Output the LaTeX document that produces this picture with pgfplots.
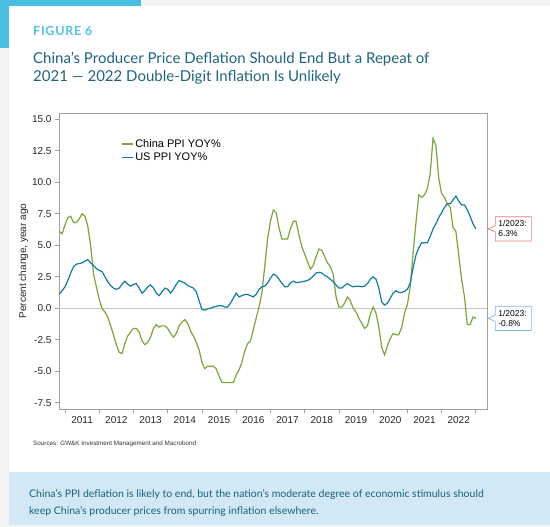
\documentclass[border=0pt]{standalone}
\usepackage{pgfplots}
\pgfplotsset{compat=1.18}
\usepackage{pgfplotstable}
\usepackage{fontspec}
\setmainfont{Liberation Sans}
\newfontfamily\titlefont{Lato}
\usetikzlibrary{shapes.callouts}
\definecolor{bggray}{RGB}{243,243,243}
\definecolor{accent}{RGB}{72,190,225}
\definecolor{figcyan}{RGB}{80,195,230}
\definecolor{titleteal}{RGB}{30,100,130}
\definecolor{capfill}{RGB}{210,233,245}
\definecolor{captext}{RGB}{25,95,125}
\definecolor{chinagreen}{RGB}{125,165,55}
\definecolor{usblue}{RGB}{16,125,160}
\definecolor{framegray}{RGB}{160,160,160}
\definecolor{redbox}{RGB}{240,120,130}
\definecolor{bluebox}{RGB}{130,180,235}

\pgfplotstableread{
t china us
-2 6.1 1.1
-1 5.9 1.4
0 6.6 1.7
1 7.2 2.2
2 7.3 2.8
3 6.8 3.3
4 6.8 3.5
5 7.1 3.55
6 7.5 3.6
7 7.3 3.75
8 6.5 3.85
9 5.0 3.6
10 2.7 3.4
11 1.7 3.15
12 0.7 3.0
13 0.0 2.9
14 -0.3 2.5
15 -0.7 2.1
16 -1.4 1.8
17 -2.1 1.6
18 -2.9 1.5
19 -3.5 1.6
20 -3.6 1.9
21 -2.8 2.15
22 -2.2 1.9
23 -1.9 1.75
24 -1.6 1.9
25 -1.6 1.95
26 -1.9 1.6
27 -2.6 1.2
28 -2.9 1.4
29 -2.7 1.7
30 -2.3 1.85
31 -1.6 1.6
32 -1.3 1.2
33 -1.5 1.0
34 -1.4 1.3
35 -1.4 1.6
36 -1.6 1.5
37 -2.0 1.2
38 -2.3 1.5
39 -2.0 1.9
40 -1.4 2.2
41 -1.1 2.1
42 -0.9 2.0
43 -1.2 1.8
44 -1.8 1.7
45 -2.2 1.6
46 -2.7 1.3
47 -3.3 0.6
48 -4.3 -0.1
49 -4.8 -0.15
50 -4.6 -0.05
51 -4.6 0.0
52 -4.6 0.1
53 -4.8 0.15
54 -5.4 0.2
55 -5.9 0.2
56 -5.9 0.1
57 -5.9 0.1
58 -5.9 0.4
59 -5.9 0.8
60 -5.3 1.2
61 -4.9 0.9
62 -4.3 1.0
63 -3.4 1.1
64 -2.8 1.1
65 -2.6 1.0
66 -1.7 0.9
67 -0.8 1.1
68 0.1 1.5
69 1.2 1.7
70 3.3 1.75
71 5.5 2.0
72 6.9 2.4
73 7.8 2.7
74 7.6 2.6
75 6.4 2.3
76 5.5 2.0
77 5.5 1.7
78 5.5 1.7
79 6.3 2.0
80 6.9 2.15
81 6.9 2.05
82 5.8 2.05
83 4.9 2.1
84 4.3 2.15
85 3.7 2.2
86 3.1 2.35
87 3.4 2.55
88 4.1 2.8
89 4.7 2.85
90 4.6 2.8
91 4.1 2.6
92 3.6 2.5
93 3.3 2.3
94 2.7 2.1
95 0.9 1.85
96 0.1 1.6
97 0.1 1.6
98 0.4 1.8
99 0.9 1.95
100 0.6 1.8
101 0.0 1.7
102 -0.3 1.75
103 -0.8 1.75
104 -1.2 1.7
105 -1.6 1.75
106 -1.4 1.95
107 -0.5 2.3
108 0.1 2.5
109 -0.4 2.3
110 -1.5 1.6
111 -3.1 0.5
112 -3.7 0.25
113 -3.0 0.4
114 -2.4 0.8
115 -2.0 1.2
116 -2.1 1.4
117 -2.1 1.25
118 -1.5 1.25
119 -0.4 1.35
120 0.3 1.5
121 1.7 2.0
122 4.4 3.2
123 6.8 4.2
124 9.0 4.8
125 8.8 5.2
126 9.0 5.2
127 9.5 5.2
128 10.7 5.7
129 13.5 6.3
130 12.9 6.7
131 10.3 7.2
132 9.1 7.6
133 8.8 8.0
134 8.3 8.3
135 8.0 8.3
136 6.4 8.6
137 6.1 8.9
138 4.2 8.5
139 2.3 8.2
140 0.9 8.2
141 -1.3 7.8
142 -1.3 7.3
143 -0.7 6.7
144 -0.8 6.3
}\datatable

\begin{document}
\begin{tikzpicture}
\useasboundingbox (0,0) rectangle (550pt,-527pt);
\fill[bggray] (0,0) rectangle (550pt,-527pt);
\fill[white] (9pt,-6pt) rectangle (550pt,-525pt);
\fill[accent] (0,0) rectangle (141pt,-6pt);
\fill[accent] (0,0) rectangle (9pt,-48pt);
\fill[capfill] (9pt,-472pt) rectangle (550pt,-525pt);

\node[anchor=base west, inner sep=0pt, font=\titlefont\fontsize{12.5}{14}\selectfont\bfseries\addfontfeatures{LetterSpace=6}, text=figcyan] at (33pt,-35.7pt) {FIGURE 6};
\node[anchor=base west, inner sep=0pt, font=\titlefont\fontsize{15}{17}\selectfont, text=titleteal] at (33pt,-64pt) {China’s Producer Price Deflation Should End But a Repeat of};
\node[anchor=base west, inner sep=0pt, font=\titlefont\fontsize{15}{17}\selectfont, text=titleteal] at (33pt,-81.5pt) {2021 — 2022 Double-Digit Inflation Is Unlikely};

\begin{axis}[
  at={(59pt,-113pt)}, anchor=north west,
  scale only axis, width=428pt, height=296pt,
  xmin=-2.1, xmax=147.9, ymin=-8, ymax=15.5,
  axis line style={framegray, line width=0.8pt},
  tick align=outside,
  xtick pos=bottom, ytick pos=left,
  xtick={6,18,...,138},
  xticklabels={2011,2012,2013,2014,2015,2016,2017,2018,2019,2020,2021,2022},
  major x tick style={draw=none},
  minor xtick={0,12,...,144},
  minor x tick style={framegray, line width=0.8pt},
  minor tick length=4pt,
  ytick={-7.5,-5,...,15},
  y tick style={framegray, line width=0.8pt},
  major tick length=4pt,
  yticklabel style={/pgf/number format/.cd, fixed, fixed zerofill, precision=1},
  /pgf/number format/assume math mode=true,
  tick label style={font=\fontsize{10}{12}\selectfont, text=black!85},
  ylabel={Percent change, year ago},
  ylabel shift=-3pt,
  ylabel style={font=\fontsize{10}{12}\selectfont, text=black!85},
  clip=false,
  legend style={draw=none, fill=none, at={(rel axis cs:0.142,0.922)}, anchor=north west,
    font=\fontsize{11}{13}\selectfont, row sep=0pt, inner sep=1pt},
  legend cell align=left,
  legend image post style={xscale=0.65},
]
\draw[black!22, line width=0.7pt] (axis cs:-2.1,0) -- (axis cs:147.9,0);
\addplot[chinagreen, line width=1.2pt] table[x=t, y=china] {\datatable};
\addlegendentry{China PPI YOY\%}
\addplot[usblue, line width=1.2pt] table[x=t, y=us] {\datatable};
\addlegendentry{US PPI YOY\%}
\node[rectangle callout, draw=redbox, fill=white, line width=0.7pt, anchor=west, align=left,
  font=\fontsize{8.5}{10}\selectfont, inner xsep=3pt, inner ysep=4pt, text width=30pt,
  callout absolute pointer={([xshift=1pt]axis cs:147.9,6.3)}, callout pointer width=6pt]
  at ([xshift=8pt]axis cs:147.9,6.3) {1/2023:\\6.3\%};
\node[rectangle callout, draw=bluebox, fill=white, line width=0.7pt, anchor=west, align=left,
  font=\fontsize{8.5}{10}\selectfont, inner xsep=3pt, inner ysep=4pt, text width=30pt,
  callout absolute pointer={([xshift=1pt]axis cs:147.9,-0.8)}, callout pointer width=6pt]
  at ([xshift=8pt]axis cs:147.9,-0.8) {1/2023:\\-0.8\%};
\end{axis}

\node[anchor=base west, inner sep=0pt, font=\fontsize{6.3}{7}\selectfont, text=black!80] at (33pt,-445.5pt) {Sources: GW\&K Investment Management and Macrobond};

\node[anchor=base west, inner sep=0pt, font=\titlefont\fontsize{10.5}{12}\selectfont, text=captext] at (29pt,-497pt) {China’s PPI deflation is likely to end, but the nation’s moderate degree of economic stimulus should};
\node[anchor=base west, inner sep=0pt, font=\titlefont\fontsize{10.5}{12}\selectfont, text=captext] at (29pt,-514.5pt) {keep China’s producer prices from spurring inflation elsewhere.};
\end{tikzpicture}
\end{document}
